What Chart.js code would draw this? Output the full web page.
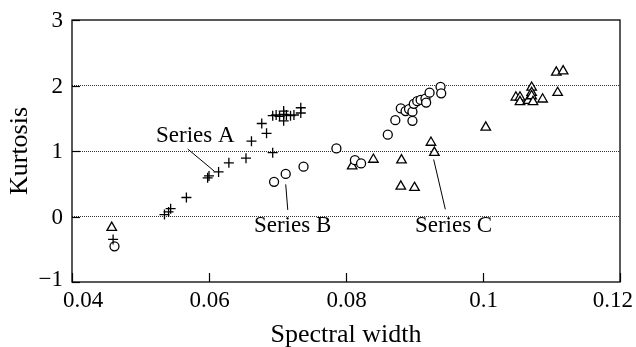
<!DOCTYPE html>
<html>
<head>
<meta charset="utf-8">
<script src="https://cdn.jsdelivr.net/npm/chart.js@4"></script>
<style>
html,body{margin:0;padding:0;background:#fff}
#wrap{width:636px;height:347px;position:relative}
</style>
</head>
<body>
<div id="wrap"><canvas id="chart"></canvas></div>
<script>
// spectral width vs kurtosis, three measurement series
const seriesA=[
[0.0460,-0.35],[0.0535,0.03],[0.0541,0.07],[0.0544,0.12],[0.0567,0.29],
[0.0598,0.59],[0.0600,0.62],[0.0614,0.68],[0.0629,0.82],[0.0654,0.89],
[0.0693,0.975],[0.0662,1.15],[0.0684,1.27],[0.0677,1.42],
[0.0693,1.54],[0.0698,1.55],[0.0703,1.53],[0.0709,1.56],[0.0709,1.46],[0.0709,1.61],
[0.0713,1.55],[0.0719,1.54],[0.0724,1.55],[0.0734,1.66],[0.0734,1.58]
]
const seriesB=[
[0.0462,-0.455],[0.0695,0.53],[0.0712,0.65],[0.0738,0.76],[0.0786,1.04],
[0.0813,0.86],[0.0822,0.81],[0.0861,1.25],[0.0872,1.47],[0.0880,1.65],
[0.0887,1.61],[0.0892,1.64],[0.0897,1.60],[0.0897,1.46],[0.0899,1.72],
[0.0904,1.76],[0.0909,1.78],[0.0916,1.80],[0.0917,1.74],[0.0922,1.89],
[0.0938,1.98],[0.0939,1.88]
]
const seriesC=[
[0.0458,-0.17],[0.0809,0.77],[0.0840,0.87],[0.0881,0.86],[0.0880,0.46],
[0.0900,0.44],[0.0924,1.13],[0.0929,0.975],[0.1004,1.36],
[0.1048,1.82],[0.1054,1.82],[0.1054,1.75],[0.1066,1.77],[0.1071,1.97],
[0.1071,1.89],[0.1071,1.84],[0.1073,1.75],[0.1087,1.79],[0.1109,1.89],
[0.1107,2.20],[0.1117,2.22]
]
const xTicks=[0.04,0.06,0.08,0.1,0.12]
const yTicks=[-1,0,1,2,3]
const xTitle="Spectral width"
const yTitle="Kurtosis"

// callout labels: text, text centre, leader line from/to (data units)
const labelNames=["Series A","Series B","Series C"]
const labelAt=[[0.0580,1.225],[0.0722,-0.14],[0.0957,-0.14]]
const leaderFrom=[[0.0569,1.03],[0.0712,0.49],[0.0928,0.87]]
const leaderTo=[[0.0608,0.69],[0.0715,0.10],[0.0945,0.11]]

const serif="'Liberation Serif','Times New Roman',serif"

function pts(a){return a.map(p=>({x:p[0],y:p[1]}))}

function fmt(v){return String(v).replace("-","\u2212")}

const frame={
id:"frame",
afterDraw(chart){
let ctx=chart.ctx
let a=chart.chartArea
let sx=chart.scales.x, sy=chart.scales.y
let W=chart.width
ctx.save()
ctx.strokeStyle="#000"
ctx.fillStyle="#000"
ctx.lineWidth=1.3
ctx.strokeRect(a.left,a.top,a.right-a.left,a.bottom-a.top)

// inward ticks + tick labels (end labels kept inside the canvas)
ctx.lineWidth=1.2
ctx.font="23px "+serif
ctx.textBaseline="middle"
xTicks.forEach((t,i)=>{
let px=Math.round(sx.getPixelForValue(t))+0.5
ctx.beginPath();ctx.moveTo(px,a.bottom);ctx.lineTo(px,a.bottom-9);ctx.stroke()
let s=fmt(t)
let w=ctx.measureText(s).width
let lx=Math.min(Math.max(px-w/2,a.left-9),W-3-w)
ctx.textAlign="left"
ctx.fillText(s,lx,a.bottom+19)
})
ctx.textAlign="right"
yTicks.forEach(t=>{
let py=Math.round(sy.getPixelForValue(t))+0.5
ctx.beginPath();ctx.moveTo(a.left,py);ctx.lineTo(a.left+8,py);ctx.stroke()
ctx.fillText(fmt(t),a.left-9,t==-1?py-3:py)
})

// axis titles
ctx.font="26px "+serif
ctx.textAlign="center"
ctx.fillText(xTitle,(a.left+a.right)/2,a.bottom+53)
ctx.save()
ctx.translate(20,(a.top+a.bottom)/2)
ctx.rotate(-Math.PI/2)
ctx.fillText(yTitle,0,0)
ctx.restore()

// callouts
ctx.lineWidth=1
ctx.font="23px "+serif
labelNames.forEach((n,i)=>{
ctx.beginPath()
ctx.moveTo(sx.getPixelForValue(leaderFrom[i][0]),sy.getPixelForValue(leaderFrom[i][1]))
ctx.lineTo(sx.getPixelForValue(leaderTo[i][0]),sy.getPixelForValue(leaderTo[i][1]))
ctx.stroke()
ctx.fillText(n,sx.getPixelForValue(labelAt[i][0]),sy.getPixelForValue(labelAt[i][1]))
})
ctx.restore()
}
}

new Chart(document.getElementById("chart"),{
type:"scatter",
data:{
datasets:[
{label:"Series A",data:pts(seriesA),pointStyle:"cross",pointRadius:5,borderColor:"#000",borderWidth:1.3,backgroundColor:"#000"},
{label:"Series B",data:pts(seriesB),pointStyle:"circle",pointRadius:4.5,borderColor:"#000",borderWidth:1.3,backgroundColor:"#fff"},
{label:"Series C",data:pts(seriesC),pointStyle:"triangle",pointRadius:5.5,borderColor:"#000",borderWidth:1.3,backgroundColor:"#fff"}
]
},
options:{
responsive:true,
maintainAspectRatio:false,
animation:false,
layout:{padding:{top:20,right:16,left:0,bottom:0}},
plugins:{legend:{display:false},tooltip:{enabled:false}},
scales:{
x:{
type:"linear",min:0.04,max:0.12,
afterBuildTicks(s){s.ticks=xTicks.map(v=>({value:v}))},
afterFit(s){s.height=65},
grid:{display:false,drawTicks:false},
border:{display:false},
ticks:{display:false}
},
y:{
type:"linear",min:-1,max:3,
afterBuildTicks(s){s.ticks=yTicks.map(v=>({value:v}))},
afterFit(s){s.width=72},
grid:{drawTicks:false,color:"#333",lineWidth:c=>(c.tick&&c.tick.value>-1&&c.tick.value<3)?1:0},
border:{display:false,dash:[1,1]},
ticks:{display:false}
}
}
},
plugins:[frame]
})
</script>
</body>
</html>
